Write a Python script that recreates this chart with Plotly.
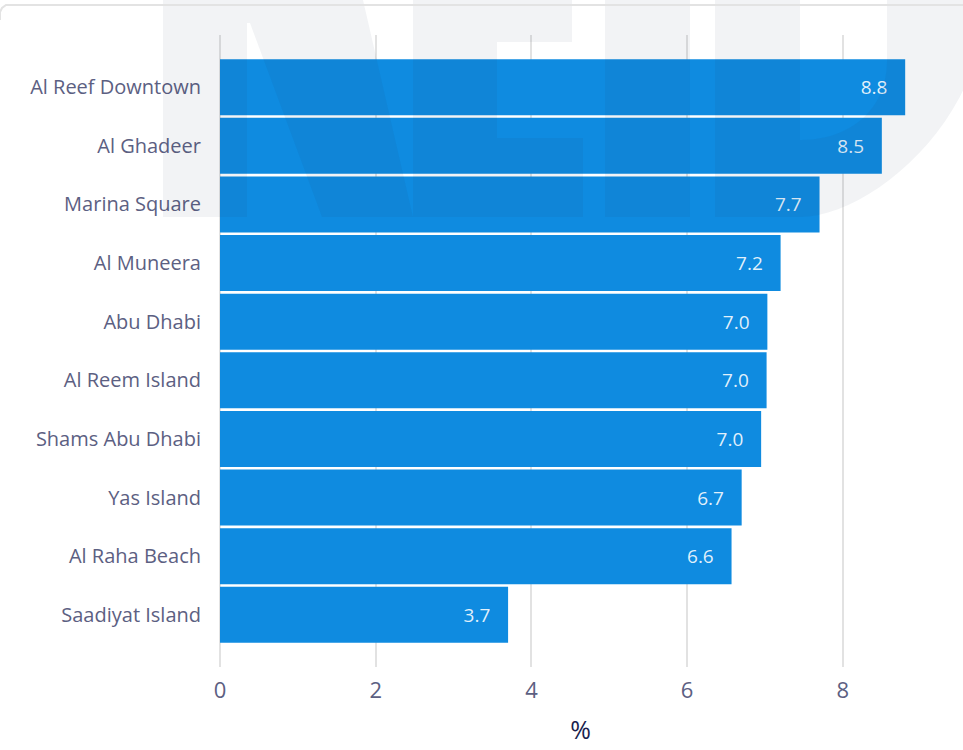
import plotly.graph_objects as go

categories = ["Al Reef Downtown", "Al Ghadeer", "Marina Square", "Al Muneera", "Abu Dhabi",
              "Al Reem Island", "Shams Abu Dhabi", "Yas Island", "Al Raha Beach", "Saadiyat Island"]
values = [8.8, 8.5, 7.7, 7.2, 7.03, 7.02, 6.95, 6.7, 6.57, 3.7]
x_ticks = [0, 2, 4, 6, 8]
x_title = "%"

W, H = 963, 750
L, R, T, B = 220, 22, 35, 83
pw, ph = W - L - R, H - T - B

def px(x, y):
    return (x - L) / pw, (H - B - y) / ph

def path(pts_list, close=True):
    s = ""
    for pts in pts_list:
        for i, (x, y) in enumerate(pts):
            X, Y = px(x, y)
            s += ("M" if i == 0 else "L") + f"{X:.5f},{Y:.5f} "
        if close:
            s += "Z "
    return s

def cubic(p0, p1, p2, p3, n=24):
    out = []
    for k in range(n + 1):
        t = k / n
        a = (1 - t) ** 3; b = 3 * (1 - t) ** 2 * t; c = 3 * (1 - t) * t ** 2; d = t ** 3
        out.append((a * p0[0] + b * p1[0] + c * p2[0] + d * p3[0],
                    a * p0[1] + b * p1[1] + c * p2[1] + d * p3[1]))
    return out

wm = "rgba(38,55,88,0.06)"
R_letter = [(163, -60), (363, -60), (363, 0), (413, 217), (322, 217), (250, 23), (247, 23), (247, 217), (163, 217)]
E_letter = [(413, -60), (572, -60), (572, 42), (497, 42), (497, 138), (583, 138), (583, 217), (413, 217)]
I_letter = [(605, -60), (690, -60), (690, 217), (605, 217)]
D_outer = [(715, -60), (985, -60), (985, 0)] + cubic((985, 0), (985, 120), (870, 217), (800, 217))[1:] + [(715, 217)]
D_inner = [(800, -60), (887, -60), (887, 60)] + cubic((887, 60), (887, 110), (850, 140), (800, 140))[1:]

shapes = []
for pts in [[R_letter], [E_letter], [I_letter], [D_outer, D_inner]]:
    shapes.append(dict(type="path", xref="paper", yref="paper", path=path(pts),
                       fillcolor=wm, line=dict(width=0), layer="above", fillrule="evenodd"))

# card top border with rounded corner
shapes.append(dict(type="path", xref="paper", yref="paper",
                   path=path([[(0, 20), (0, 12), (2, 8), (6, 5), (963, 5)]], close=False),
                   line=dict(color="#e3e3e3", width=2), layer="above"))

fig = go.Figure(go.Bar(
    y=categories, x=values, orientation="h",
    marker=dict(color="#0f8be0", line=dict(width=0)),
    text=[f"{v:.1f}" for v in values],
    texttemplate="%{text}\u00a0\u00a0\u00a0",
    textposition="inside", insidetextanchor="end",
    textfont=dict(family="Open Sans", size=19, color="rgba(255,255,255,0.88)"),
    cliponaxis=False,
))

fig.update_layout(
    width=W, height=H,
    margin=dict(l=L, r=R, t=T, b=B, pad=0, autoexpand=False),
    paper_bgcolor="white", plot_bgcolor="white",
    bargap=0.045,
    showlegend=False,
    shapes=shapes,
    font=dict(family="Open Sans", color="#5c6082"),
)
fig.update_xaxes(range=[0, 9.26], tickvals=x_ticks, showgrid=True, gridcolor="#e2e2e2", gridwidth=2,
                 zeroline=True, zerolinecolor="#e2e2e2", zerolinewidth=2, showline=False,
                 automargin=False,
                 tickfont=dict(size=22, color="#5c6082"), ticklabelstandoff=8,
                 title=dict(text=x_title, font=dict(size=25, color="#1a1f4f"), standoff=18))
fig.update_yaxes(categoryorder="array", categoryarray=categories[::-1], range=[-0.89, 9.89],
                 showgrid=False, zeroline=False, showline=False, automargin=False,
                 tickfont=dict(size=20, color="#5c6082"), ticklabelstandoff=18)

fig.write_html("out.html")
